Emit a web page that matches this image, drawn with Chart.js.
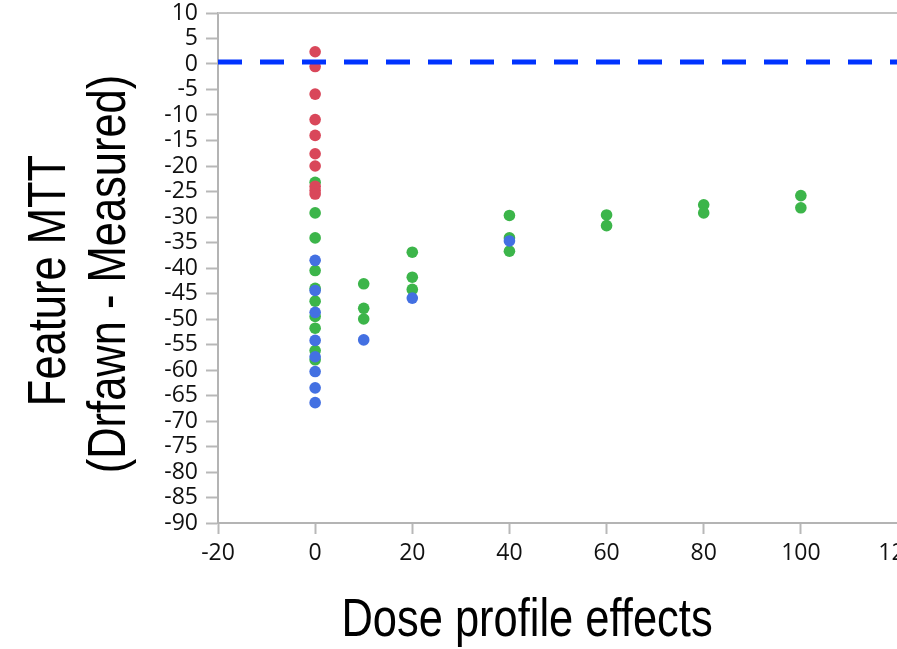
<!DOCTYPE html>
<html>
<head>
<meta charset="utf-8">
<script src="https://cdn.jsdelivr.net/npm/chart.js@4"></script>
<style>
  html, body { margin: 0; padding: 0; background: #fff; overflow: hidden; }
  #wrap { width: 920px; height: 649px; }
</style>
</head>
<body>
<div id="wrap"><canvas id="doseChart" width="920" height="649"></canvas></div>
<script>
// values
let redX = [0, 0, 0, 0, 0, 0, 0, 0, 0, 0];
let redY = [2.4, -0.5, -5.9, -10.9, -14.0, -17.6, -20.0, -24.0, -24.8, -25.5];

let greenX = [0, 0, 0, 0, 0, 0, 0, 0, 0, 0, 10, 10, 10, 20, 20, 20, 40, 40, 40, 60, 60, 80, 80, 100, 100];
let greenY = [-23.2, -29.2, -34.1, -40.5, -44.0, -46.5, -49.5, -51.8, -56.2, -58.0,
              -43.1, -47.9, -50.0, -36.9, -41.8, -44.2, -29.7, -34.1, -36.7,
              -29.6, -31.7, -27.6, -29.2, -25.8, -28.2];

let blueX = [0, 0, 0, 0, 0, 0, 0, 0, 10, 20, 40];
let blueY = [-38.5, -44.4, -48.7, -54.2, -57.4, -60.3, -63.5, -66.4, -54.1, -45.9, -34.7];

let refX = [-20, 120];
let refY = [0.4, 0.4];

let xTitle = 'Dose profile effects';
let yTitle = ['Feature MTT', '(Drfawn - Measured)'];

function toPoints(xs, ys) {
    return xs.map((x, i) => ({ x: x, y: ys[i] }));
}

// axis titles (narrow look) and the top frame line
const titlePlugin = {
    id: 'titlePlugin',
    afterDraw(chart) {
        let ctx = chart.ctx;
        let area = chart.chartArea;
        ctx.save();
        ctx.strokeStyle = '#c4c4c4';
        ctx.lineWidth = 2;
        ctx.beginPath();
        ctx.moveTo(area.left, area.top);
        ctx.lineTo(area.right, area.top);
        ctx.stroke();

        ctx.fillStyle = '#000';
        ctx.font = '53px "Liberation Sans", Arial, sans-serif';
        ctx.textAlign = 'center';
        ctx.textBaseline = 'middle';

        ctx.save();
        ctx.translate(527, 621);
        ctx.scale(0.82, 1);
        ctx.fillText(xTitle, 0, 0);
        ctx.restore();

        ctx.save();
        ctx.translate(0, 274);
        ctx.rotate(-Math.PI / 2);
        ctx.scale(0.82, 1);
        ctx.fillText(yTitle[0], -8, 50);
        ctx.fillText(yTitle[1], 0, 110);
        ctx.restore();

        ctx.restore();
    }
};

let ctx = document.getElementById('doseChart').getContext('2d');
new Chart(ctx, {
    type: 'scatter',
    data: {
        datasets: [
            {
                type: 'line',
                data: toPoints(refX, refY),
                borderColor: '#0033ff',
                borderWidth: 5,
                borderDash: [24, 18],
                pointRadius: 0,
                fill: false
            },
            {
                data: toPoints(redX, redY),
                backgroundColor: '#d9475a',
                borderWidth: 0,
                pointRadius: 5.8
            },
            {
                data: toPoints(blueX, blueY),
                backgroundColor: '#4370e2',
                borderWidth: 0,
                pointRadius: 5.8
            },
            {
                data: toPoints(greenX, greenY),
                backgroundColor: '#3cb54a',
                borderWidth: 0,
                pointRadius: 5.8
            }
        ]
    },
    options: {
        responsive: false,
        animation: false,
        layout: { padding: { top: 13, right: 22, bottom: 0, left: 0 } },
        plugins: {
            legend: { display: false },
            tooltip: { enabled: false }
        },
        scales: {
            x: {
                type: 'linear',
                min: -20,
                max: 120,
                afterFit(scale) {
                    scale.height = 126;
                    scale.paddingLeft = 0;
                    scale.paddingRight = 0;
                },
                ticks: {
                    stepSize: 20,
                    autoSkip: false,
                    maxRotation: 0,
                    color: '#111',
                    padding: 6,
                    font: { family: '"Open Sans", sans-serif', size: 23 }
                },
                grid: { drawOnChartArea: false, tickLength: 11, tickWidth: 2, tickColor: '#b8b8b8' },
                border: { color: '#b4b4b4', width: 2 }
            },
            y: {
                min: -90,
                max: 10,
                afterFit(scale) {
                    scale.width = 218;
                    scale.paddingTop = 0;
                    scale.paddingBottom = 0;
                },
                ticks: {
                    stepSize: 5,
                    autoSkip: false,
                    color: '#111',
                    padding: 8,
                    font: { family: '"Open Sans", sans-serif', size: 23, lineHeight: 1 }
                },
                grid: { drawOnChartArea: false, tickLength: 12, tickWidth: 2, tickColor: '#b8b8b8' },
                border: { color: '#b4b4b4', width: 2 }
            }
        }
    },
    plugins: [titlePlugin]
});
</script>
</body>
</html>
